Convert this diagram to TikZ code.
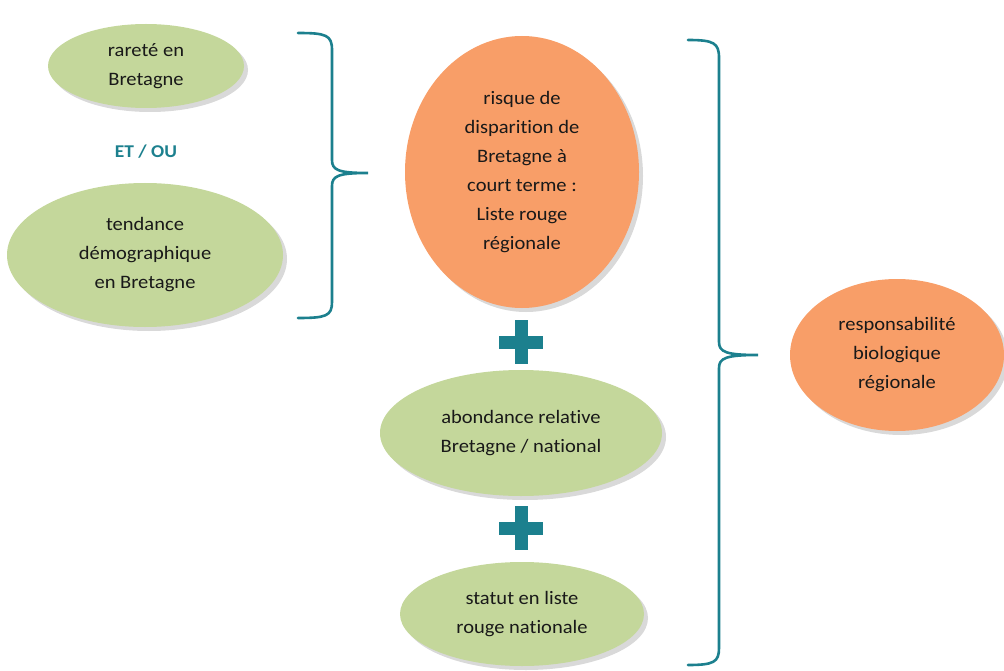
\documentclass[tikz,border=0pt]{standalone}
\usepackage{fontspec}
\setmainfont{Carlito}[FakeStretch=1.08,Ligatures=NoCommon]
\usetikzlibrary{shapes.geometric,shadows}

\definecolor{critvert}{RGB}{196,215,155}
\definecolor{critorange}{RGB}{248,158,104}
\definecolor{canard}{RGB}{28,128,142}

\begin{document}
\begin{tikzpicture}
  [x=1pt,y=-1pt,
   crit/.style={ellipse,fill=critvert,inner sep=0pt,align=center,text=black!90,
     font=\fontsize{19}{29}\selectfont,
     drop shadow={opacity=0.3,shadow xshift=4pt,shadow yshift=-4pt}},
   bilan/.style={crit,fill=critorange},
   accolade/.style={draw=canard,line width=2.6pt,line cap=round}]
  \useasboundingbox (0,0) rectangle (1004,671);

  \node[crit,minimum width=196pt,minimum height=84pt] (rar) at (146,66) {rareté en\\Bretagne};
  \node[crit,minimum width=276pt,minimum height=144pt] (tend) at (145,255) {tendance\\démographique\\en Bretagne};
  \node[text=canard,font=\fontsize{18}{22}\selectfont\bfseries] (etou) at (146,152) {ET / OU};

  \node[bilan,minimum width=234pt,minimum height=272pt] (risq) at (522,172)
    {risque de\\disparition de\\Bretagne à\\court terme :\\Liste rouge\\régionale};
  \node[crit,minimum width=282pt,minimum height=126pt] (abond) at (521,433) {abondance relative\\Bretagne / national};
  \node[crit,minimum width=244pt,minimum height=104pt] (stat) at (522,614) {statut en liste\\rouge nationale};
  \node[bilan,minimum width=214pt,minimum height=152pt] (resp) at (897,355) {responsabilité\\biologique\\régionale};

  % les signes +
  \foreach \y in {342,528}{
    \fill[canard] (499,\y-6.5) rectangle (543,\y+6.5);
    \fill[canard] (514.5,\y-22) rectangle (527.5,\y+22);
  }

  % accolades
  \draw[accolade] (298,33) .. controls (326,33) and (332,35) .. (332,50) -- (332,160)
    .. controls (332,170) and (338,173) .. (368,173)
    .. controls (338,173) and (332,176) .. (332,186) -- (332,302)
    .. controls (332,316) and (326,318) .. (298,318);
  \draw[accolade] (688,40) .. controls (714,40) and (719,43) .. (719,58) -- (719,342)
    .. controls (719,352) and (726,355) .. (758,355)
    .. controls (726,355) and (719,358) .. (719,368) -- (719,648)
    .. controls (719,662) and (714,665) .. (688,665);
\end{tikzpicture}
\end{document}
